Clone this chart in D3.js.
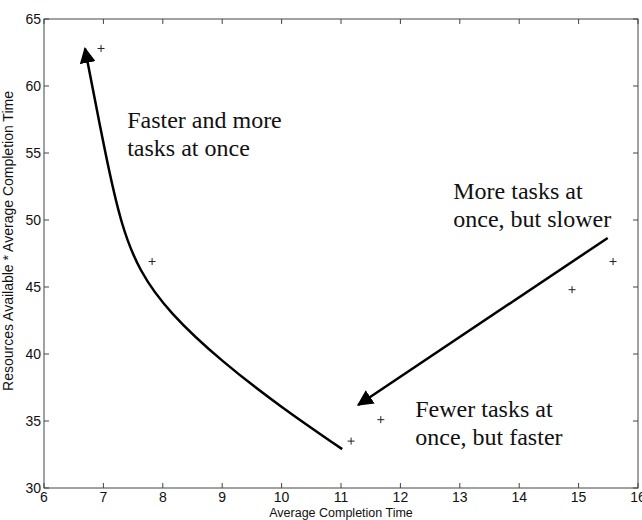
<!DOCTYPE html>
<html>
<head>
<meta charset="utf-8">
<title>Resources vs completion time</title>
<script src="https://cdn.jsdelivr.net/npm/d3@7"></script>
<style>
  body { margin: 0; background: #fff; }
  svg { display: block; }
  .tick-label { font-family: "Liberation Sans", Arial, sans-serif; font-size: 14px; fill: #111; }
  .axis-title { font-family: "Liberation Sans", Arial, sans-serif; font-size: 12.5px; fill: #111; }
  .note { font-family: "Liberation Serif", "Times New Roman", serif; font-size: 24px; fill: #111; }
</style>
</head>
<body>
<svg width="642" height="520"></svg>
<script>
// measured points (x = avg completion time, y = resources * time)
var pointX = [6.96, 7.82, 11.17, 11.67, 14.89, 15.58];
var pointY = [62.8, 46.9, 33.5, 35.1, 44.8, 46.9];

// hand drawn arrows, in data units (curve is a smoothed guide path)
var curveX = [11.02, 10.0, 9.0, 8.1, 7.6, 7.3, 7.05, 6.69];
var curveY = [32.9, 36.0, 39.4, 43.1, 46.2, 49.6, 54.5, 62.8];
var lineX = [15.49, 11.29];
var lineY = [48.66, 36.2];

var xTicks = [6, 7, 8, 9, 10, 11, 12, 13, 14, 15, 16];
var yTicks = [30, 35, 40, 45, 50, 55, 60, 65];

var notes = [
  { x: 7.4, y: 56.9, lines: ["Faster and more", "tasks at once"] },
  { x: 12.89, y: 51.57, lines: ["More tasks at", "once, but slower"] },
  { x: 12.25, y: 35.3, lines: ["Fewer tasks at", "once, but faster"] }
];

var svg = d3.select("svg");
var pl = 44, pr = 638, pt = 19, pb = 488;

var x = d3.scaleLinear().domain([6, 16]).range([pl, pr]);
var y = d3.scaleLinear().domain([30, 65]).range([pb, pt]);

svg.append("defs").append("marker")
  .attr("id", "head")
  .attr("viewBox", "0 0 10 10")
  .attr("refX", 9).attr("refY", 5)
  .attr("markerWidth", 16).attr("markerHeight", 16)
  .attr("markerUnits", "userSpaceOnUse")
  .attr("orient", "auto")
  .append("path").attr("d", "M0,0 L10,5 L0,10 Z").attr("fill", "#000");

// frame
svg.append("rect")
  .attr("x", pl).attr("y", pt)
  .attr("width", pr - pl).attr("height", pb - pt)
  .attr("fill", "none").attr("stroke", "#444").attr("stroke-width", 1);

// inward ticks on all four sides
var tl = 5;
svg.append("g").selectAll("line").data(xTicks).join("line")
  .attr("x1", d => x(d)).attr("x2", d => x(d))
  .attr("y1", pb).attr("y2", pb - tl)
  .attr("stroke", "#444");
svg.append("g").selectAll("line").data(xTicks).join("line")
  .attr("x1", d => x(d)).attr("x2", d => x(d))
  .attr("y1", pt).attr("y2", pt + tl)
  .attr("stroke", "#444");
svg.append("g").selectAll("line").data(yTicks).join("line")
  .attr("x1", pl).attr("x2", pl + tl)
  .attr("y1", d => y(d)).attr("y2", d => y(d))
  .attr("stroke", "#444");
svg.append("g").selectAll("line").data(yTicks).join("line")
  .attr("x1", pr).attr("x2", pr - tl)
  .attr("y1", d => y(d)).attr("y2", d => y(d))
  .attr("stroke", "#444");

svg.append("g").selectAll("text").data(xTicks).join("text")
  .attr("class", "tick-label")
  .attr("x", d => x(d)).attr("y", pb + 14)
  .attr("text-anchor", "middle")
  .text(d => d);
svg.append("g").selectAll("text").data(yTicks).join("text")
  .attr("class", "tick-label")
  .attr("x", pl - 3).attr("y", d => y(d) + 5)
  .attr("text-anchor", "end")
  .text(d => d);

svg.append("text").attr("class", "axis-title")
  .attr("x", (pl + pr) / 2).attr("y", 517)
  .attr("text-anchor", "middle")
  .text("Average Completion Time");
svg.append("text").attr("class", "axis-title")
  .attr("transform", "translate(13,241) rotate(-90)")
  .attr("text-anchor", "middle")
  .style("font-size", "14px")
  .text("Resources Available * Average Completion Time");

// data markers
svg.append("g").selectAll("path").data(d3.range(pointX.length)).join("path")
  .attr("d", i => {
    var px = x(pointX[i]), py = y(pointY[i]), s = 3.5;
    return "M" + (px - s) + "," + py + "H" + (px + s) + "M" + px + "," + (py - s) + "V" + (py + s);
  })
  .attr("stroke", "#222").attr("stroke-width", 1);

// arrows
var line = d3.line().x(d => x(d[0])).y(d => y(d[1])).curve(d3.curveBasis);
svg.append("path")
  .attr("d", line(d3.zip(curveX, curveY)))
  .attr("fill", "none").attr("stroke", "#000").attr("stroke-width", 2.5)
  .attr("marker-end", "url(#head)");
svg.append("path")
  .attr("d", d3.line().x(d => x(d[0])).y(d => y(d[1]))(d3.zip(lineX, lineY)))
  .attr("fill", "none").attr("stroke", "#000").attr("stroke-width", 2.5)
  .attr("marker-end", "url(#head)");

// annotations
notes.forEach(function (n) {
  var t = svg.append("text").attr("class", "note")
    .attr("x", x(n.x)).attr("y", y(n.y));
  n.lines.forEach(function (s, i) {
    t.append("tspan").attr("x", x(n.x)).attr("dy", i ? 28.5 : 0).text(s);
  });
});
</script>
</body>
</html>
